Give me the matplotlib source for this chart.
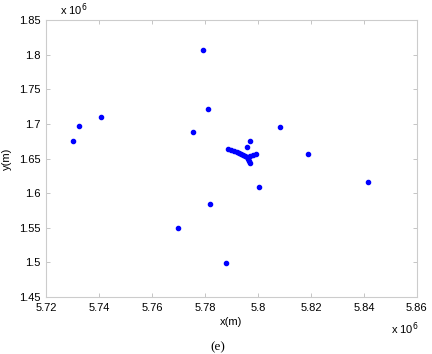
import matplotlib
matplotlib.use('Agg')
import matplotlib.pyplot as plt

# point coordinates (units of 1e6 m)
x_pts = [5.7794, 5.7813, 5.7753, 5.7407, 5.7324, 5.7302,
         5.8005, 5.7820, 5.7700, 5.7880, 5.8414, 5.8083, 5.8189,
         5.7971, 5.7959,
         5.7888, 5.7899, 5.7911, 5.7922, 5.7929, 5.7937, 5.7944, 5.7952, 5.7959,
         5.7971, 5.7982, 5.7993,
         5.7963, 5.7967, 5.7971]
y_pts = [1.8067, 1.7215, 1.6880, 1.7100, 1.6970, 1.6750,
         1.6090, 1.5840, 1.5500, 1.4990, 1.6160, 1.6955, 1.6565,
         1.6753, 1.6666,
         1.6637, 1.6623, 1.6608, 1.6594, 1.6579, 1.6565, 1.6551, 1.6536, 1.6522,
         1.6536, 1.6551, 1.6565,
         1.6493, 1.6464, 1.6435]

xticks = [5.72, 5.74, 5.76, 5.78, 5.80, 5.82, 5.84, 5.86]
xtick_labels = ['5.72', '5.74', '5.76', '5.78', '5.8', '5.82', '5.84', '5.86']
yticks = [1.45, 1.50, 1.55, 1.60, 1.65, 1.70, 1.75, 1.80, 1.85]
ytick_labels = ['1.45', '1.5', '1.55', '1.6', '1.65', '1.7', '1.75', '1.8', '1.85']

plt.rcParams['font.family'] = ['Liberation Sans', 'DejaVu Sans']

fig = plt.figure(figsize=(4.32, 3.54), dpi=100)
ax = fig.add_axes([0.1065, 0.161, 0.8585, 0.7825])

ax.plot(x_pts, y_pts, '.', color='#0000ff', markersize=6)

ax.set_xlim(5.72, 5.86)
ax.set_ylim(1.45, 1.85)
ax.set_xticks(xticks)
ax.set_xticklabels(xtick_labels)
ax.set_yticks(yticks)
ax.set_yticklabels(ytick_labels)
ax.tick_params(direction='in', top=True, right=True, length=3, width=0.6,
               color='#bbbbbb', labelsize=8, pad=4)
for s in ax.spines.values():
    s.set_color('#cccccc')
    s.set_linewidth(0.8)

ax.set_xlabel('x(m)', fontsize=8, labelpad=3)
ax.set_ylabel('y(m)', fontsize=8, labelpad=5)

fig.text(0.138, 0.997, r'x 10$^6$', fontsize=8, ha='left', va='top')
fig.text(0.968, 0.047, r'x 10$^6$', fontsize=8, ha='right', va='bottom')
fig.text(0.505, 0.02, '(e)', fontsize=9.5, ha='center', va='center',
         family='Liberation Serif')

fig.savefig('out.png', dpi=100)
